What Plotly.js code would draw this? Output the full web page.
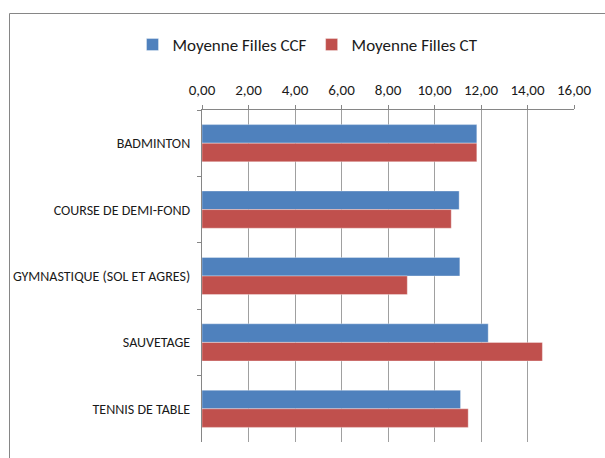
<!DOCTYPE html>
<html>
<head>
<meta charset="utf-8">
<script src="https://cdn.plot.ly/plotly-3.0.1.min.js"></script>
<style>
html,body{margin:0;padding:0;background:#fff;}
#chart{width:605px;height:458px;}
</style>
</head>
<body>
<div id="chart"></div>
<script>
const categories = ["BADMINTON", "COURSE DE DEMI-FOND", "GYMNASTIQUE (SOL ET AGRES)", "SAUVETAGE", "TENNIS DE TABLE"];
const moyenneCCF = [11.82, 11.06, 11.09, 12.31, 11.12];
const moyenneCT = [11.82, 10.72, 8.83, 14.64, 11.45];
const seriesNames = ["Moyenne Filles CCF", "Moyenne Filles CT"];
const xTicks = [0, 2, 4, 6, 8, 10, 12, 14, 16];

const FONT = "Carlito, 'Liberation Sans Narrow', 'Arial Narrow', sans-serif";
const L = 202, R = 31, T = 110, B = 16, W = 605, H = 458;
const pw = W - L - R, ph = H - T - B;

const traces = [
  {type: "bar", orientation: "h", name: seriesNames[0], y: categories, x: moyenneCCF,
   marker: {color: "#4F81BD", line: {color: "rgba(255,255,255,0.35)", width: 1}}},
  {type: "bar", orientation: "h", name: seriesNames[1], y: categories, x: moyenneCT,
   marker: {color: "#C0504D", line: {color: "rgba(255,255,255,0.35)", width: 1}}}
];

const layout = {
  width: W, height: H,
  margin: {l: L, r: R, t: T, b: B, pad: 0},
  paper_bgcolor: "#fff", plot_bgcolor: "#fff",
  separators: ", ",
  font: {family: FONT, color: "#1a1a1a", size: 15},
  barmode: "group", bargap: 0.44, bargroupgap: 0,
  showlegend: true,
  legend: {orientation: "h", x: (308 - L) / pw, xanchor: "center", y: (H - B - 45) / ph, yanchor: "middle",
           font: {family: FONT, size: 17, color: "#1a1a1a"}, itemwidth: 30, traceorder: "normal"},
  xaxis: {side: "top", range: [0, 16], tickvals: xTicks, tickformat: ".2f",
          showgrid: true, gridcolor: "#a0a0a0", gridwidth: 1,
          showline: true, linecolor: "#868686", linewidth: 1,
          ticks: "outside", ticklen: 4, tickcolor: "#868686",
          tickfont: {family: FONT, size: 15, color: "#1a1a1a"}, ticklabelstandoff: 4,
          zeroline: false, fixedrange: true},
  yaxis: {autorange: "reversed", type: "category", tickson: "boundaries",
          showline: true, linecolor: "#868686", linewidth: 1,
          ticks: "outside", ticklen: 4, tickcolor: "#868686",
          tickfont: {family: FONT, size: 14, color: "#1a1a1a"}, ticklabelstandoff: 8,
          showgrid: false, zeroline: false, fixedrange: true},
  shapes: [{type: "rect", xref: "paper", yref: "paper", layer: "above",
            x0: (9.5 - L) / pw, x1: (640 - L) / pw,
            y0: (H - B - 480) / ph, y1: (H - B - 13.5) / ph,
            line: {color: "#868686", width: 1}}]
};

Plotly.newPlot("chart", traces, layout, {displayModeBar: false, staticPlot: true});
</script>
</body>
</html>
